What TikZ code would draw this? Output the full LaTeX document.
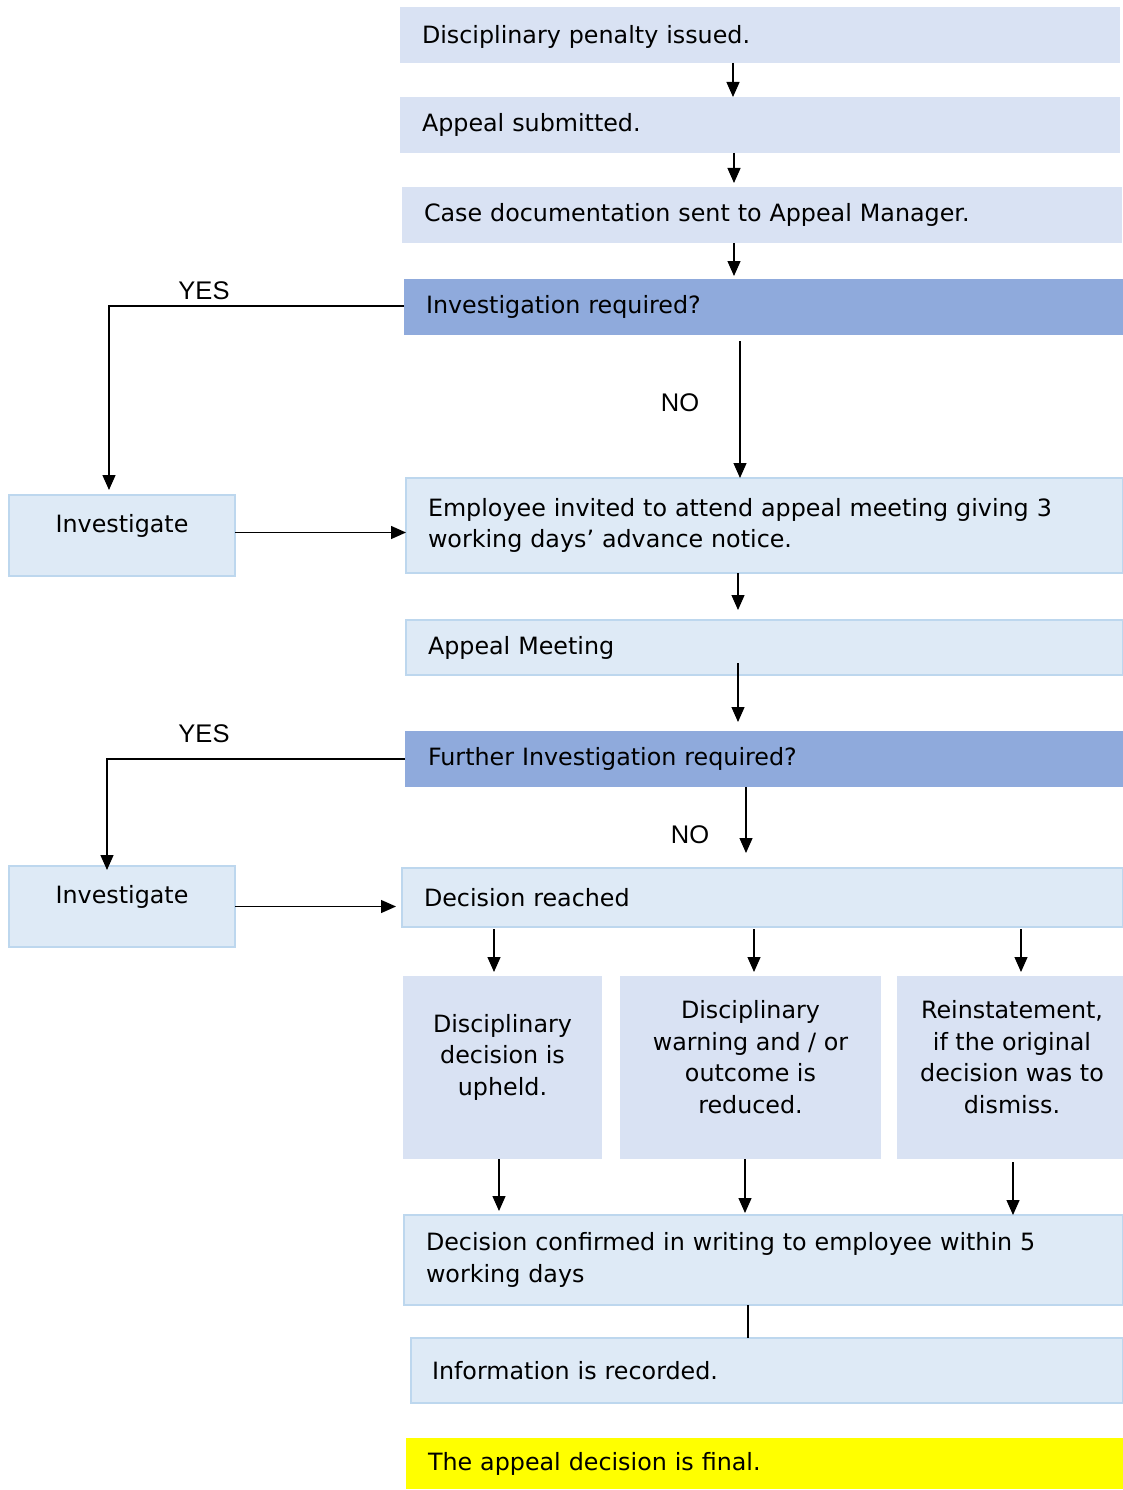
\documentclass[tikz,border=0pt]{standalone}
\usepackage{fontspec}
\setmainfont{DejaVu Sans}
\newfontfamily\lblfont{Liberation Sans}
\usetikzlibrary{arrows.meta}
\definecolor{fillA}{HTML}{D9E2F3}
\definecolor{fillB}{HTML}{DEEAF6}
\definecolor{edgeB}{HTML}{BDD7EE}
\definecolor{fillQ}{HTML}{8FAADC}
\definecolor{yel}{HTML}{FFFF00}
\begin{document}
\begin{tikzpicture}[x=1pt,y=-1pt,
  font=\fontsize{23.8}{31.5}\selectfont,
  every node/.style={inner sep=0pt, outer sep=0pt},
  plainbox/.style={fill=fillA, anchor=north west, align=left, inner xsep=22pt},
  qbox/.style={fill=fillQ, anchor=north west, align=left, inner xsep=22pt},
  bbox/.style={fill=fillB, draw=edgeB, line width=2.5pt, anchor=north west, align=left, inner xsep=22pt},
  ybox/.style={fill=yel, anchor=north west, align=left, inner xsep=22pt},
  cbox/.style={fill=fillA, anchor=north west},
  ibox/.style={fill=fillB, draw=edgeB, line width=2.5pt, anchor=north west, minimum width=226pt, minimum height=81pt},
  lbl/.style={font=\lblfont\fontsize{25.5}{30}\selectfont},
  arr/.style={-{Triangle[width=13pt,length=15pt]}, line width=1.3pt},
  ln/.style={line width=1.3pt}]
\useasboundingbox (0,0) rectangle (1123,1490);

% main column
\node[plainbox, text width=676pt, minimum height=56pt, text depth=2pt] (b1) at (400,7) {Disciplinary penalty issued.};
\node[plainbox, text width=676pt, minimum height=56pt] (b2) at (400,97) {Appeal submitted.};
\node[plainbox, text width=676pt, minimum height=56pt] (b3) at (402,187) {Case documentation sent to Appeal Manager.};
\node[qbox, text width=675pt, minimum height=56pt] (b4) at (404,279) {Investigation required?};
\node[bbox, text width=673pt, minimum height=95pt] (b5) at (406,478) {Employee invited to attend appeal meeting giving 3\\working days’ advance notice.};
\node[bbox, text width=673pt, minimum height=55pt] (b6) at (406,620) {Appeal Meeting};
\node[qbox, text width=672pt, minimum height=56pt, inner xsep=23pt] (b7) at (405,731) {Further Investigation required?};
\node[bbox, text width=677pt, minimum height=59pt] (b8) at (402,868) {Decision reached};

\node[cbox, minimum width=199pt, minimum height=183pt,
  label={[align=center, yshift=10.5pt]center:{Disciplinary\\decision is\\upheld.}}] (c1) at (403,976) {};
\node[cbox, minimum width=261pt, minimum height=183pt,
  label={[align=center, yshift=10.5pt]center:{Disciplinary\\warning and / or\\outcome is\\reduced.}}] (c2) at (620,976) {};
\node[cbox, minimum width=226pt, minimum height=183pt,
  label={[align=center, yshift=10.5pt, xshift=2pt]center:{Reinstatement,\\if the original\\decision was to\\dismiss.}}] (c3) at (897,976) {};

\node[bbox, text width=675pt, minimum height=90pt] (b10) at (404,1215) {Decision confirmed in writing to employee within 5\\working days};
\node[bbox, text width=670pt, minimum height=65pt, inner xsep=21pt] (b11) at (411,1338) {Information is recorded.};
\node[ybox, text width=673pt, minimum height=51pt] (b12) at (406,1438) {The appeal decision is final.};

% side boxes
\node[ibox, label={[yshift=9.5pt]center:Investigate}] (inv1) at (9,495) {};
\node[ibox, label={[yshift=9.5pt]center:Investigate}] (inv2) at (9,866) {};

% labels
\node[lbl] (yes1) at (204,291) {YES};
\node[lbl] (no1) at (680,403) {NO};
\node[lbl] (yes2) at (204,734) {YES};
\node[lbl] (no2) at (690,835) {NO};

% connectors
\draw[arr] (733,0 |- b1.south) -- (733,0 |- b2.north);
\draw[arr] (734,0 |- b2.south) -- ([yshift=4pt]734,0 |- b3.north);
\draw[arr] (734,0 |- b3.south) -- ([yshift=3pt]734,0 |- b4.north);
\draw[arr] ([yshift=-6pt]740,0 |- b4.south) -- (740,0 |- b5.north);
\draw[arr] ([yshift=1pt]b4.west) -| ([xshift=-13pt,yshift=5pt]inv1.north);
\draw[arr] ([yshift=3pt]inv1.east) -- ([yshift=3pt]inv1.east -| b5.west);
\draw[arr] (738,0 |- b5.south) -- ([yshift=10pt]738,0 |- b6.north);
\draw[arr] ([yshift=12pt]738,0 |- b6.south) -- ([yshift=9pt]738,0 |- b7.north);
\draw[arr] (b7.west) -| ([xshift=-15pt,yshift=-4pt]inv2.north);
\draw[arr] (746,0 |- b7.south) -- ([yshift=15pt]746,0 |- b8.north);
\draw[arr] (inv2.east) -- ([xshift=-6pt]inv2.east -| b8.west);
\draw[arr] ([yshift=-2pt]494,0 |- b8.south) -- ([yshift=4pt]494,0 |- c1.north);
\draw[arr] ([yshift=-2pt]754,0 |- b8.south) -- ([yshift=4pt]754,0 |- c2.north);
\draw[arr] ([yshift=-2pt]1021,0 |- b8.south) -- ([yshift=4pt]1021,0 |- c3.north);
\draw[arr] (499,0 |- c1.south) -- ([yshift=4pt]499,0 |- b10.north);
\draw[arr] (745,0 |- c2.south) -- ([yshift=2pt]745,0 |- b10.north);
\draw[arr] ([yshift=-3pt]1013,0 |- c3.south) -- (1013,0 |- b10.north);
\draw[ln] (748,0 |- b10.south) -- (748,0 |- b11.north);
\end{tikzpicture}
\end{document}
